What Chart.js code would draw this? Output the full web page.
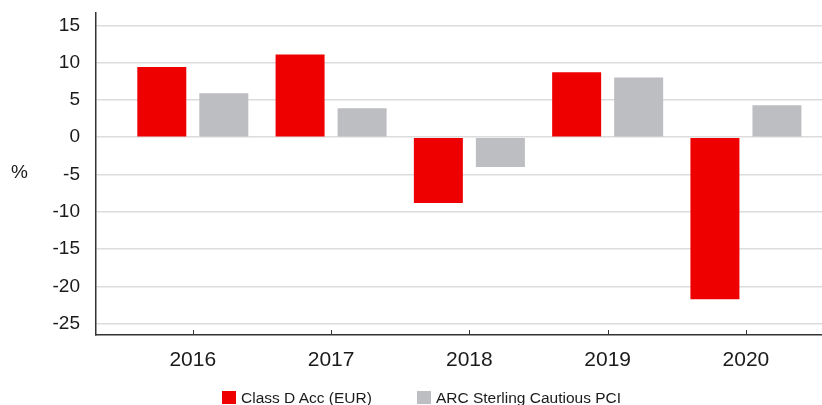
<!DOCTYPE html>
<html>
<head>
<meta charset="utf-8">
<script src="https://cdn.jsdelivr.net/npm/chart.js@4"></script>
<style>
  body { margin: 0; background: #fff; }
  #wrap { width: 822px; height: 405px; position: relative; }
  #legend {
    position: absolute; left: 222px; top: 391px;
    display: flex; gap: 45px;
    font: 15.5px "Liberation Sans", Arial, sans-serif; color: #1a1a1a;
  }
  #legend .item { display: flex; align-items: center; height: 13px; line-height: 13px; white-space: nowrap; }
  #legend .swatch { width: 14px; height: 13px; margin-right: 5px; }
</style>
</head>
<body>
<div id="wrap">
  <canvas id="perfChart"></canvas>
  <div id="legend"></div>
</div>
<script>
// data
const years = ["2016", "2017", "2018", "2019", "2020"];
const classD = [9.4, 11.1, -8.8, 8.7, -21.7];
const arcCautious = [5.9, 3.9, -4.0, 8.0, 4.3];
const yTicks = [-25, -20, -15, -10, -5, 0, 5, 10, 15];

const RED = "#ee0000";
const GREY = "#bdbec1";
const FONT = "'Liberation Sans', Arial, sans-serif";

// y axis title sits horizontal, left of the tick labels
const percentLabel = {
  id: "percentLabel",
  afterDraw(chart) {
    const ctx = chart.ctx;
    const y = chart.scales.y;
    ctx.save();
    ctx.font = "19px " + FONT;
    ctx.fillStyle = "#1a1a1a";
    ctx.textAlign = "center";
    ctx.textBaseline = "middle";
    ctx.fillText("%", 19.5, y.getPixelForValue(-4.7));
    ctx.restore();
  }
};

// small tick marks pointing up into the plot
const innerTicks = {
  id: "innerTicks",
  afterDraw(chart) {
    const ctx = chart.ctx;
    const x = chart.scales.x;
    const bottom = chart.chartArea.bottom;
    ctx.save();
    ctx.strokeStyle = "#333";
    ctx.lineWidth = 1;
    x.ticks.forEach(t => {
      const px = Math.round(x.getPixelForValue(t.value)) + 0.5;
      ctx.beginPath();
      ctx.moveTo(px, bottom - 5);
      ctx.lineTo(px, bottom);
      ctx.stroke();
    });
    ctx.restore();
  }
};

const ctx = document.getElementById("perfChart").getContext("2d");
const chart = new Chart(ctx, {
  type: "bar",
  data: {
    datasets: [
      {
        label: "Class D Acc (EUR)",
        data: years.map((yr, i) => ({ x: i, y: classD[i] })),
        backgroundColor: RED
      },
      {
        label: "ARC Sterling Cautious PCI",
        data: years.map((yr, i) => ({ x: i, y: arcCautious[i] })),
        backgroundColor: GREY
      }
    ]
  },
  options: {
    responsive: true,
    maintainAspectRatio: false,
    animation: false,
    categoryPercentage: 0.897,
    barPercentage: 0.79,
    layout: { padding: { top: 13, right: 0, left: 0, bottom: 0 } },
    plugins: {
      tooltip: { enabled: false },
      legend: { display: false }
    },
    scales: {
      x: {
        type: "linear",
        offset: false,
        min: -0.7,
        max: 4.55,
        afterBuildTicks: scale => {
          scale.ticks = years.map((yr, i) => ({ value: i }));
        },
        afterFit: scale => { scale.height = 70; },
        grid: { display: false },
        border: { display: true, color: "#333", width: 1.5 },
        ticks: {
          padding: 5,
          color: "#1a1a1a",
          font: { family: FONT, size: 21 },
          maxRotation: 0,
          callback: value => years[value] ?? ""
        }
      },
      y: {
        min: -26.5,
        max: 16.65,
        afterBuildTicks: scale => {
          scale.ticks = yTicks.map(v => ({ value: v }));
        },
        afterFit: scale => {
          scale.width = 96;
          scale.paddingTop = 0;
          scale.paddingBottom = 0;
        },
        grid: { color: "#dcdcdc", lineWidth: 1.5, drawTicks: false },
        border: { display: true, color: "#333", width: 1.5 },
        ticks: {
          padding: 16,
          color: "#1a1a1a",
          font: { family: FONT, size: 19 }
        }
      }
    }
  },
  plugins: [percentLabel, innerTicks]
});

// html legend built from the datasets
const legendEl = document.getElementById("legend");
chart.data.datasets.forEach(ds => {
  const item = document.createElement("div");
  item.className = "item";
  item.innerHTML = `<span class="swatch" style="background:${ds.backgroundColor}"></span>${ds.label}`;
  legendEl.appendChild(item);
});
</script>
</body>
</html>
